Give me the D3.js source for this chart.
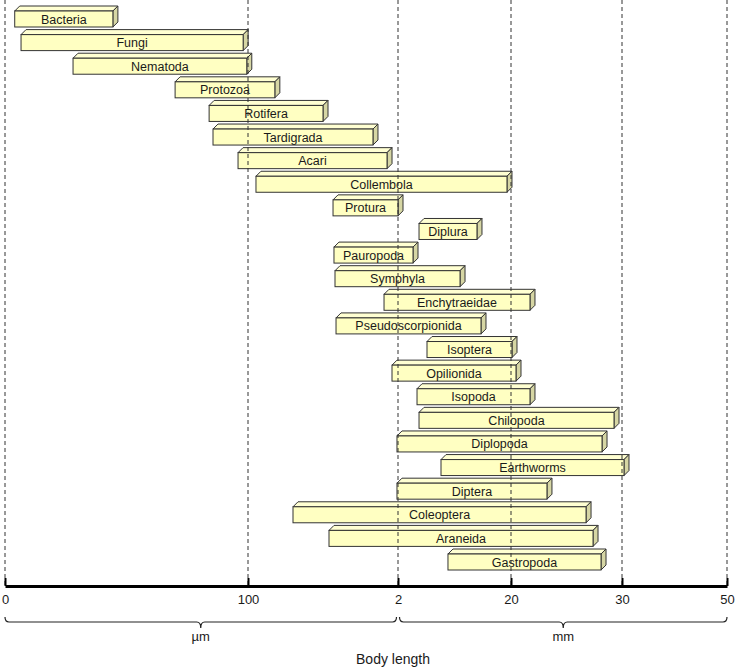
<!DOCTYPE html>
<html>
<head>
<meta charset="utf-8">
<script src="https://cdn.jsdelivr.net/npm/d3@7"></script>
<style>
  html, body { margin: 0; padding: 0; background: #fff; }
  svg { display: block; font-family: "Liberation Sans", Arial, sans-serif; }
</style>
</head>
<body>
<svg id="chart" width="744" height="668"></svg>
<script>
// ---- data (body length in mm) ----
const taxa = ["Bacteria","Fungi","Nematoda","Protozoa","Rotifera","Tardigrada","Acari","Collembola",
  "Protura","Diplura","Pauropoda","Symphyla","Enchytraeidae","Pseudoscorpionida","Isoptera","Opilionida",
  "Isopoda","Chilopoda","Diplopoda","Earthworms","Diptera","Coleoptera","Araneida","Gastropoda"];
const minLength = [0.004, 0.0066, 0.028, 0.07, 0.084, 0.0856, 0.0959, 0.201,
  1.177, 5.35, 1.189, 1.202, 1.823, 1.215, 6.62, 1.924,
  5.03, 5.35, 1.987, 8.85, 1.987, 0.67, 1.126, 9.96];
const maxLength = [0.0444, 0.098, 0.0995, 0.44, 1.05, 1.683, 1.861, 19.36,
  2.0, 14.58, 4.39, 11.88, 21.71, 15.22, 20.09, 20.45,
  21.71, 29.28, 28.2, 30.38, 23.24, 26.76, 27.39, 28.11];
const tickValues = [0, 0.1, 2, 20, 30, 50];
const tickLabels = ["0", "100", "2", "20", "30", "50"];
const unitGroups = [{label: "\u00b5m", from: 0, to: 2}, {label: "mm", from: 2, to: 50}];
const axisTitle = "Body length";

// ---- layout ----
const svg = d3.select("#chart");
const axisY = 586;
const x = d3.scaleLinear().domain(tickValues).range([5, 248, 398, 511, 622, 727]);
const y = d3.scalePoint().domain(taxa).range([19, 562]);
const faceH = 16, depth = 5;

const rows = taxa.map((t, i) => ({name: t, lo: minLength[i], hi: maxLength[i]}));

// bars
const g = svg.append("g");
const bar = g.selectAll("g.bar").data(rows).join("g").attr("class", "bar");
const stroke = "#333";
bar.append("path") // top face
  .attr("d", d => {
    const x0 = x(d.lo), x1 = x(d.hi), yt = y(d.name) - faceH / 2;
    return `M${x0},${yt} L${x0 + depth},${yt - depth} L${x1 + depth},${yt - depth} L${x1},${yt} Z`;
  })
  .attr("fill", "#FFFFD2").attr("stroke", stroke).attr("stroke-width", 1).attr("stroke-linejoin", "round");
bar.append("path") // right face
  .attr("d", d => {
    const x1 = x(d.hi), yt = y(d.name) - faceH / 2, yb = y(d.name) + faceH / 2;
    return `M${x1},${yt} L${x1 + depth},${yt - depth} L${x1 + depth},${yb - depth} L${x1},${yb} Z`;
  })
  .attr("fill", "#D6D6A4").attr("stroke", stroke).attr("stroke-width", 1).attr("stroke-linejoin", "round");
bar.append("rect") // front face
  .attr("x", d => x(d.lo)).attr("y", d => y(d.name) - faceH / 2)
  .attr("width", d => x(d.hi) - x(d.lo)).attr("height", faceH)
  .attr("fill", "#FFFFC2").attr("stroke", stroke).attr("stroke-width", 1);

// dashed gridlines (drawn over bars)
svg.append("g").selectAll("line").data(tickValues).join("line")
  .attr("x1", d => x(d)).attr("x2", d => x(d))
  .attr("y1", 0).attr("y2", axisY)
  .attr("stroke", "#333").attr("stroke-width", 1).attr("stroke-dasharray", "4,3");

// bar labels
bar.append("text")
  .attr("x", d => (x(d.lo) + x(d.hi)) / 2).attr("y", d => y(d.name))
  .attr("dy", "0.36em").attr("text-anchor", "middle")
  .attr("font-size", 12.5).attr("fill", "#1a1a1a")
  .text(d => d.name);

// axis
const axis = d3.axisBottom(x).tickValues(tickValues)
  .tickFormat((d, i) => tickLabels[i])
  .tickSizeInner(-8).tickSizeOuter(0).tickPadding(9);
const ag = svg.append("g").attr("transform", `translate(0,${axisY})`).call(axis);
ag.select(".domain").attr("stroke", "#000").attr("stroke-width", 3);
ag.selectAll(".tick line").attr("stroke", "#000").attr("stroke-width", 2);
ag.selectAll(".tick text").attr("font-size", 13).attr("fill", "#1a1a1a")
  .attr("font-family", "'Liberation Sans', Arial, sans-serif");

// braces
const braceY = 622;
unitGroups.forEach((u, i) => {
  const x0 = x(u.from) + (i === 0 ? 0 : 1.5), x1 = x(u.to) - (i === 0 ? 1.5 : 0);
  const m = (x0 + x1) / 2;
  const p = `M${x0},${braceY - 5} Q${x0},${braceY} ${x0 + 4},${braceY} L${m - 4},${braceY} Q${m},${braceY} ${m},${braceY + 6} Q${m},${braceY} ${m + 4},${braceY} L${x1 - 4},${braceY} Q${x1},${braceY} ${x1},${braceY - 5}`;
  svg.append("path").attr("d", p).attr("fill", "none").attr("stroke", "#222").attr("stroke-width", 1.2);
  svg.append("text").attr("x", m).attr("y", 641).attr("text-anchor", "middle")
    .attr("font-size", 13).attr("fill", "#1a1a1a").text(u.label);
});

svg.append("text").attr("x", x(2) - 5).attr("y", 664).attr("text-anchor", "middle")
  .attr("font-size", 14).attr("fill", "#1a1a1a").text(axisTitle);
</script>
</body>
</html>
